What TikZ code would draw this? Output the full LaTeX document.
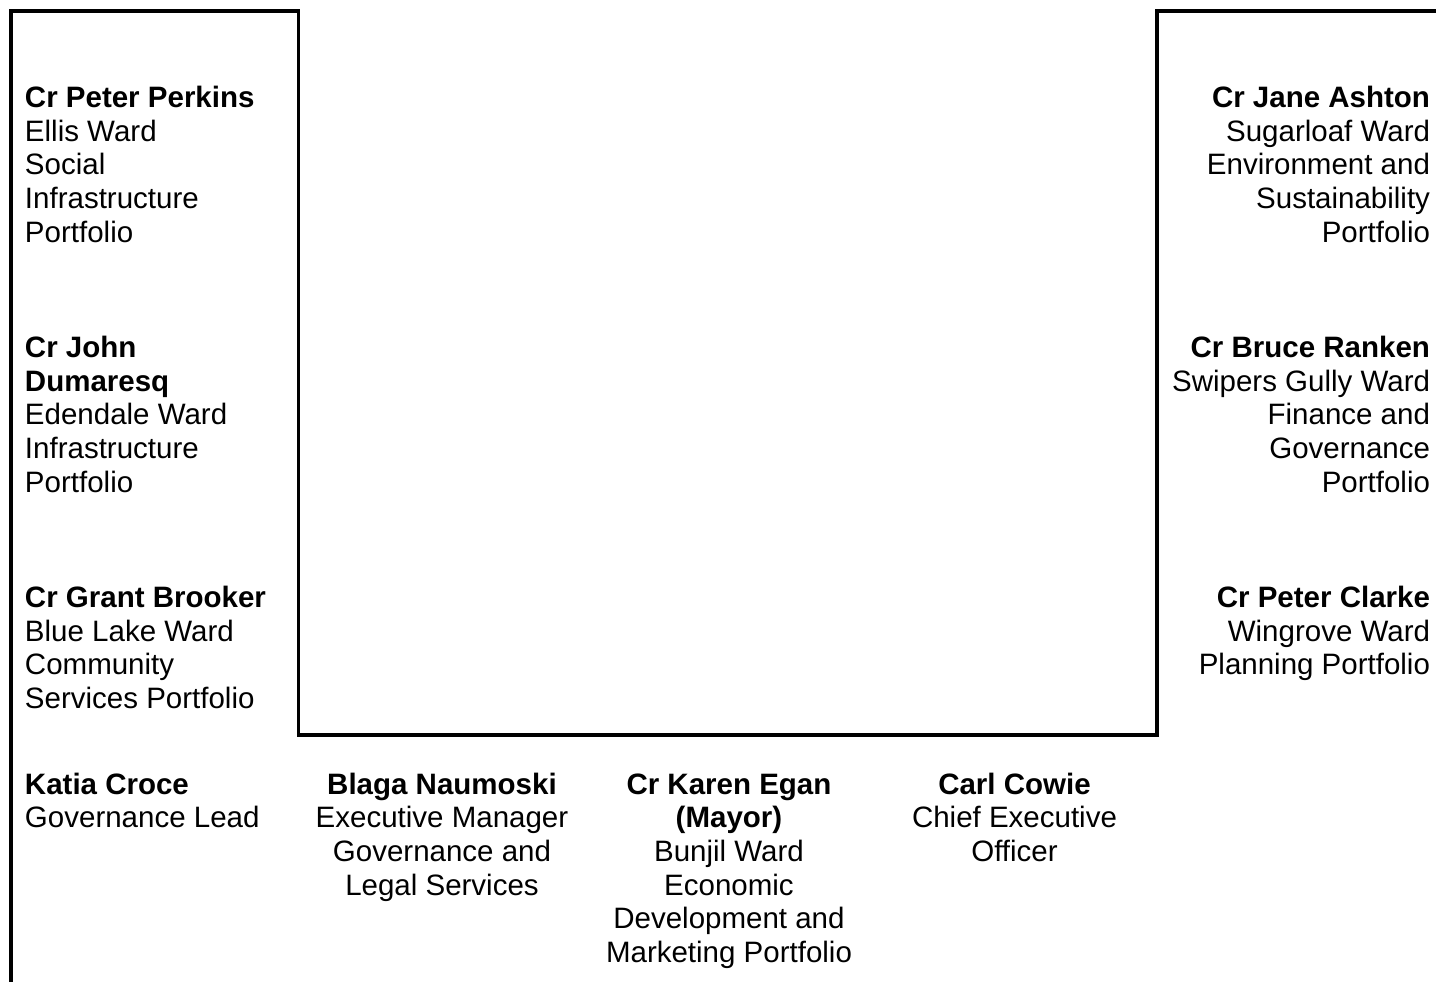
\documentclass[tikz,border=0pt]{standalone}
\usepackage{fontspec}
\setmainfont{Liberation Sans}
\begin{document}
\begin{tikzpicture}[x=0.5pt,y=-0.5pt,
  txt/.style={inner sep=0pt,outer sep=0pt,font=\fontsize{14.75pt}{16.85pt}\selectfont},
  lefttxt/.style={txt,align=left,anchor=base west},
  righttxt/.style={txt,align=right,anchor=base east},
  midtxt/.style={txt,align=center,anchor=base},
  wall/.style={line width=1.9pt,line join=miter,line cap=butt}]
\useasboundingbox (0,0) rectangle (1436,981);
\fill[white] (0,0) rectangle (1436,981);
\draw[wall] (11,990) -- (11,11) -- (298.5,11) -- (298.5,735) -- (1157,735) -- (1157,11) -- (1445,11);
% left column (anchor = baseline of last line)
\node[lefttxt] (perkins) at (25,242.3) {\textbf{Cr Peter Perkins}\\Ellis Ward\\Social\\Infrastructure\\Portfolio};
\node[lefttxt] (dumaresq) at (25,492.3) {\textbf{Cr John}\\\textbf{Dumaresq}\\Edendale Ward\\Infrastructure\\Portfolio};
\node[lefttxt] (brooker) at (25,708.6) {\textbf{Cr Grant Brooker}\\Blue Lake Ward\\Community\\Services Portfolio};
% right column
\node[righttxt] (ashton) at (1430,242.3) {\textbf{Cr Jane Ashton}\\Sugarloaf Ward\\Environment and\\Sustainability\\Portfolio};
\node[righttxt] (ranken) at (1430,492.3) {\textbf{Cr Bruce Ranken}\\Swipers Gully Ward\\Finance and\\Governance\\Portfolio};
\node[righttxt] (clarke) at (1430,674.9) {\textbf{Cr Peter Clarke}\\Wingrove Ward\\Planning Portfolio};
% bottom row
\node[lefttxt] (croce) at (25,827.7) {\textbf{Katia Croce}\\Governance Lead};
\node[midtxt] (naumoski) at (442,895.1) {\textbf{Blaga Naumoski}\\Executive Manager\\Governance and\\Legal Services};
\node[midtxt] (egan) at (729,962.5) {\textbf{Cr Karen Egan}\\\textbf{(Mayor)}\\Bunjil Ward\\Economic\\Development and\\Marketing Portfolio};
\node[midtxt] (cowie) at (1014.5,861.4) {\textbf{Carl Cowie}\\Chief Executive\\Officer};
\end{tikzpicture}
\end{document}
